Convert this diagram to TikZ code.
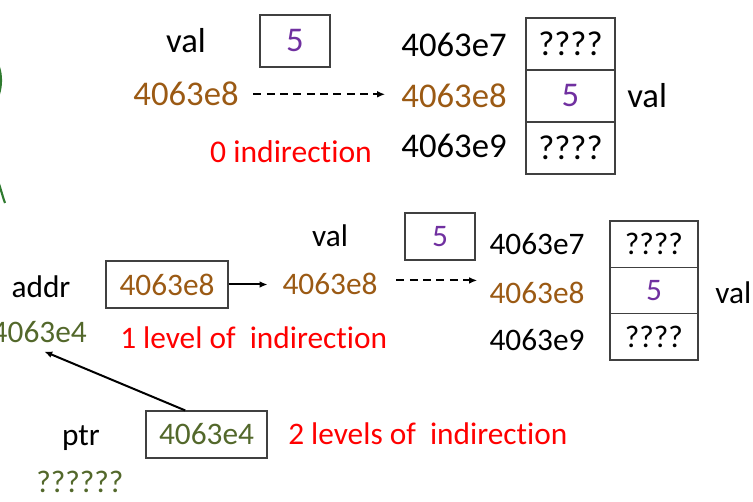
\documentclass[tikz,border=0pt]{standalone}
\usepackage{fontspec}
\setmainfont{Carlito}[Ligatures=NoCommon]
\usetikzlibrary{arrows.meta}
\definecolor{addrbrown}{HTML}{9B5A14}
\definecolor{valpurple}{HTML}{7030A0}
\definecolor{ptrolive}{HTML}{53682B}
\definecolor{redtxt}{HTML}{FF0000}
\definecolor{boxgray}{HTML}{404040}
\definecolor{leafgreen}{HTML}{2F7A2F}
\tikzset{
  bigf/.style={font=\fontsize{26}{30}\selectfont},
  redf/.style={font=\fontsize{23.7}{28}\selectfont},
  smf/.style={font=\fontsize{23.5}{28}\selectfont},
  lbl/.style={inner sep=0pt, anchor=base},
  boxed/.style={draw=boxgray, line width=0.9pt, inner sep=0pt},
  topcell/.style={boxed, bigf, minimum width=66.75pt, minimum height=39pt},
  botcell/.style={boxed, smf, minimum width=66pt, minimum height=34.75pt},
  dasharrow/.style={line width=1.4pt, dash pattern=on 6pt off 4pt, -{Latex[length=6pt,width=5pt]}},
  solarrow/.style={line width=1.5pt, -{Latex[length=6pt,width=5pt]}}
}
\begin{document}
\begin{tikzpicture}[x=0.75pt,y=-0.75pt]
\useasboundingbox (0,0) rectangle (753,502);
% green curve fragments at left edge
\draw[leafgreen, line width=1.6pt] (-8,55) .. controls (4,68) and (4,92) .. (-8,108);
\draw[leafgreen, line width=1.6pt] (-4,176) .. controls (0,185) and (2,195) .. (5,203);

% ---------- top section ----------
\node[lbl,bigf] (tval) at (186,53) {val};
\node[boxed,bigf,text=valpurple,minimum width=52.5pt,minimum height=39pt] (tbox) at (295,41) {5};
\node[lbl,bigf,text=addrbrown] (tl8) at (186,106) {4063e8};
\node[lbl,redf,text=redtxt] (t0) at (291,163) {0 indirection};
\node[lbl,bigf] (t7) at (454,57) {4063e7};
\node[lbl,bigf,text=addrbrown] (tr8) at (454,108) {4063e8};
\node[lbl,bigf] (t9) at (454,158) {4063e9};
\node[topcell] (tc1) at (570.5,44) {????};
\node[topcell,text=valpurple] (tc2) at (570.5,96) {5};
\node[topcell] (tc3) at (570.5,148) {????};
\node[lbl,bigf,anchor=base west] (tvalr) at (627,108) {val};
\draw[dasharrow, shorten <=11pt, shorten >=12pt] (tl8.east) -- (tl8.east -| tr8.west);

% ---------- bottom section ----------
\node[lbl,smf] (bval) at (330,247) {val};
\node[boxed,smf,text=valpurple,minimum width=52.5pt,minimum height=35.25pt] (bbox) at (440,236.5) {5};
\node[lbl,smf] (b7) at (537,255) {4063e7};
\node[lbl,smf,text=addrbrown] (br8) at (537,303) {4063e8};
\node[lbl,smf] (b9) at (537,350) {4063e9};
\node[botcell] (bc1) at (654,244.2) {????};
\node[botcell,text=valpurple] (bc2) at (654,290.5) {5};
\node[botcell] (bc3) at (654,336.8) {????};
\node[lbl,smf,anchor=base west] (bvalr) at (715,303) {val};

\node[lbl,smf] (addr) at (41,297) {addr};
\node[boxed,smf,text=addrbrown,minimum width=91.5pt,minimum height=35.25pt] (abox) at (167,284.5) {4063e8};
\node[lbl,smf,text=addrbrown] (m8) at (330,295) {4063e8};
\node[lbl,smf,text=redtxt,anchor=base west] (l1) at (120,348) {1 level of\ \ indirection};
\node[lbl,smf,text=ptrolive,anchor=base east] (a4) at (87,342) {4063e4};

\node[lbl,smf] (ptr) at (81,445) {ptr};
\node[boxed,smf,text=ptrolive,minimum width=90.75pt,minimum height=35.25pt] (pbox) at (206.5,434.5) {4063e4};
\node[lbl,smf,text=redtxt,anchor=base west] (l2) at (288,444) {2 levels of\ \ indirection};
\node[lbl,smf,text=ptrolive] (pq) at (80,492) {??????};

\draw[solarrow, shorten >=11pt] (abox.east) -- (abox.east -| m8.west);
\draw[dasharrow, shorten <=14pt, shorten >=9pt] ([yshift=3pt]m8.east) -- ([yshift=3pt]m8.east -| br8.west);
\draw[solarrow] ([xshift=-16pt]pbox.north) -- ([shift={(5,9)}]a4.south);
\end{tikzpicture}
\end{document}
